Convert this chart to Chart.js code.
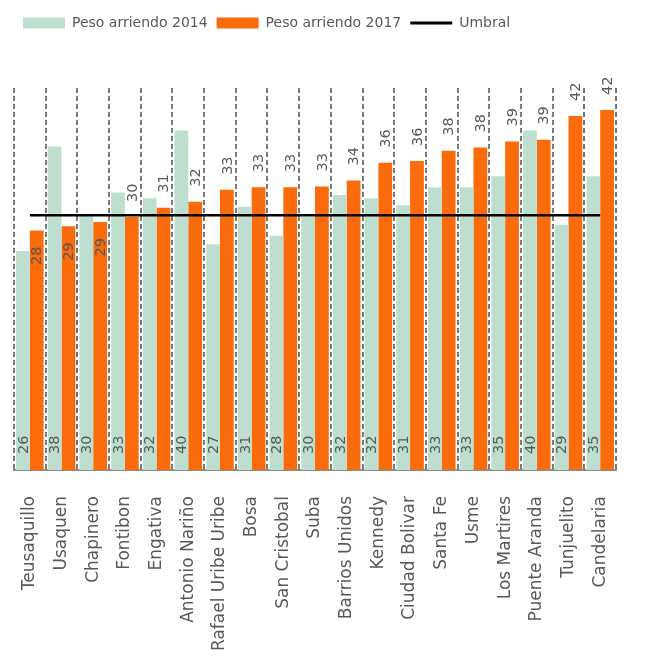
<!DOCTYPE html>
<html>
<head>
<meta charset="utf-8">
<script src="https://cdn.jsdelivr.net/npm/chart.js@4.4.1/dist/chart.umd.min.js"></script>
<style>
  html, body { margin: 0; padding: 0; background: #ffffff; }
  canvas { display: block; }
</style>
</head>
<body>
<canvas id="chart" width="647" height="659"></canvas>
<script>
// Localidades de Bogotá
const categories = [
  'Teusaquillo', 'Usaquen', 'Chapinero', 'Fontibon', 'Engativa',
  'Antonio Nariño', 'Rafael Uribe Uribe', 'Bosa', 'San Cristobal', 'Suba',
  'Barrios Unidos', 'Kennedy', 'Ciudad Bolivar', 'Santa Fe', 'Usme',
  'Los Martires', 'Puente Aranda', 'Tunjuelito', 'Candelaria'
];

// Peso del arriendo (%) por año
const peso2014 = [25.8, 38.1, 29.9, 32.7, 32.0, 40.0, 26.6, 31.0, 27.6, 29.8,
                  32.4, 32.0, 31.2, 33.3, 33.3, 34.6, 40.0, 28.9, 34.6];
const peso2017 = [28.2, 28.7, 29.2, 29.8, 30.9, 31.6, 33.0, 33.3, 33.3, 33.4,
                  34.1, 36.2, 36.4, 37.6, 38.0, 38.7, 38.9, 41.7, 42.4];

// Umbral de referencia
const umbral = 30;

const seriesNames = ['Peso arriendo 2014', 'Peso arriendo 2017', 'Umbral'];
const yMin = 0;
const yMax = 45;

const TEXT = '#595959';
const FONT = 'DejaVu Sans';
const GREEN = '#BEDFCF';
const ORANGE = '#FA6B0C';

// Extra room between the legend and the plot area
const legendGap = {
  id: 'legendGap',
  beforeInit(chart) {
    if (!chart.legend) return;
    const fit = chart.legend.fit;
    chart.legend.fit = function () {
      fit.call(this);
      this.height += 48;
    };
  }
};

// Rotated value labels on each bar
const valueLabels = {
  id: 'valueLabels',
  afterDatasetsDraw(chart) {
    const ctx = chart.ctx;
    const area = chart.chartArea;
    ctx.save();
    ctx.font = '14.5px "' + FONT + '"';
    ctx.fillStyle = TEXT;
    ctx.textBaseline = 'middle';
    [0, 1].forEach(di => {
      const meta = chart.getDatasetMeta(di);
      const values = chart.data.datasets[di].data;
      meta.data.forEach((bar, i) => {
        const shown = Math.round(values[i]);
        let y, align;
        if (di === 0) {
          y = area.bottom - 16; align = 'left';
        } else if (shown < umbral) {
          y = bar.y + 16; align = 'right';
        } else {
          y = bar.y - 15; align = 'left';
        }
        ctx.save();
        ctx.translate(bar.x + 1, y);
        ctx.rotate(-Math.PI / 2);
        ctx.textAlign = align;
        ctx.fillText(String(shown), 0, 0);
        ctx.restore();
      });
    });
    ctx.restore();
  }
};

new Chart(document.getElementById('chart'), {
  data: {
    labels: categories,
    datasets: [
      {
        type: 'bar', label: seriesNames[0], data: peso2014,
        backgroundColor: GREEN, borderWidth: 0,
        categoryPercentage: 0.87, barPercentage: 1.0, order: 2
      },
      {
        type: 'bar', label: seriesNames[1], data: peso2017,
        backgroundColor: ORANGE, borderWidth: 0,
        categoryPercentage: 0.87, barPercentage: 1.0, order: 2
      },
      {
        type: 'line', label: seriesNames[2], data: categories.map(() => umbral),
        borderColor: '#000000', backgroundColor: '#000000', borderWidth: 2.5,
        pointRadius: 0, fill: false, tension: 0, order: 1
      }
    ]
  },
  options: {
    responsive: false,
    animation: false,
    events: [],
    layout: { padding: { left: 14, right: 16, top: 7, bottom: 0 } },
    plugins: {
      tooltip: { enabled: false },
      legend: {
        position: 'top',
        align: 'start',
        labels: {
          usePointStyle: true,
          pointStyleWidth: 42,
          boxWidth: 42,
          boxHeight: 11,
          padding: 9,
          color: TEXT,
          font: { family: FONT, size: 14 },
          generateLabels(chart) {
            const ds = chart.data.datasets;
            return [
              { text: ds[0].label, fillStyle: ds[0].backgroundColor, strokeStyle: ds[0].backgroundColor,
                lineWidth: 0, pointStyle: 'rect', datasetIndex: 0, hidden: false, fontColor: TEXT },
              { text: ds[1].label, fillStyle: ds[1].backgroundColor, strokeStyle: ds[1].backgroundColor,
                lineWidth: 0, pointStyle: 'rect', datasetIndex: 1, hidden: false, fontColor: TEXT },
              { text: ds[2].label, fillStyle: ds[2].borderColor, strokeStyle: ds[2].borderColor,
                lineWidth: 3, pointStyle: 'line', datasetIndex: 2, hidden: false, fontColor: TEXT }
            ];
          }
        }
      }
    },
    scales: {
      x: {
        offset: true,
        grid: { display: true, offset: true, color: '#7A7A7A', lineWidth: 2, drawTicks: false },
        border: { display: true, color: '#8C8C8C', width: 2, dash: [5, 3] },
        ticks: {
          autoSkip: false, minRotation: 90, maxRotation: 90, padding: 26,
          color: TEXT, font: { family: FONT, size: 17 }
        },
        afterFit(scale) { scale.height = 189; }
      },
      y: { display: false, min: yMin, max: yMax }
    }
  },
  plugins: [legendGap, valueLabels]
});
</script>
</body>
</html>
